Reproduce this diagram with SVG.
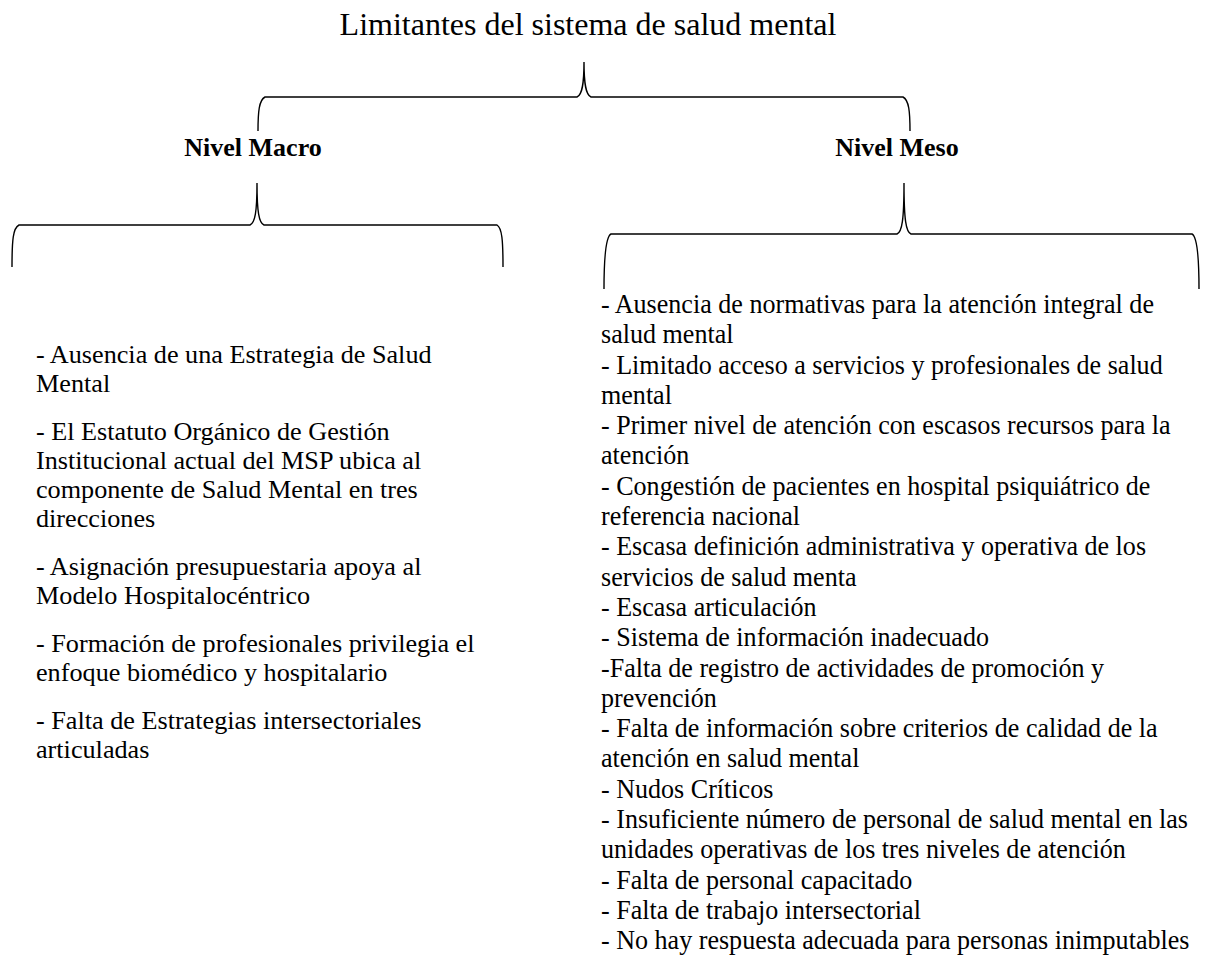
<svg xmlns="http://www.w3.org/2000/svg" width="1206" height="963" viewBox="0 0 1206 963">
<style>
.t{font-family:"Liberation Serif","Times New Roman",serif;fill:#000}
.title{font-size:32px}
.head{font-size:26px;font-weight:bold}
.lt{font-size:26.2px}
.rt{font-size:27.3px}
.br{fill:none;stroke:#000;stroke-width:1.4}
</style>
<rect width="1206" height="963" fill="#fff"/>
<g id="title"><text class="t title" x="588" y="35" text-anchor="middle">Limitantes del sistema de salud mental</text></g>
<g id="connectors">
<path class="br" d="M258,131 C258,112 259,100 265,97 L577,97 C582,95 584,85 584,62 C584,85 586,95 591,97 L903,97 C909,100 910,112 910,131"/>
<path class="br" d="M12,267 C12,240 13,228 19,225 L250,225 C255,223 257,212 257,183 C257,212 259,223 264,225 L497,225 C502,228 503,240 503,267"/>
<path class="br" d="M604,289 C604,262 605,237 611,234 L897,234 C902,232 904,220 904,183 C904,220 906,232 911,234 L1192,234 C1198,237 1199,262 1199,289"/>
</g>
<g id="macro"><text class="t head" x="253" y="156" text-anchor="middle">Nivel Macro</text></g>
<g id="meso"><text class="t head" x="897" y="156" text-anchor="middle">Nivel Meso</text></g>
<g id="macro-list">
<text class="t lt">
<tspan x="36" y="363">- Ausencia de una Estrategia de Salud</tspan>
<tspan x="36" y="392">Mental</tspan>
<tspan x="36" y="440">- El Estatuto Orgánico de Gestión</tspan>
<tspan x="36" y="469">Institucional actual del MSP ubica al</tspan>
<tspan x="36" y="498">componente de Salud Mental en tres</tspan>
<tspan x="36" y="527">direcciones</tspan>
<tspan x="36" y="575">- Asignación presupuestaria apoya al</tspan>
<tspan x="36" y="604">Modelo Hospitalocéntrico</tspan>
<tspan x="36" y="652">- Formación de profesionales privilegia el</tspan>
<tspan x="36" y="681">enfoque biomédico y hospitalario</tspan>
<tspan x="36" y="729">- Falta de Estrategias intersectoriales</tspan>
<tspan x="36" y="758">articuladas</tspan>
</text>
</g>
<g id="meso-list" transform="translate(601,0) scale(0.955,1)">
<text class="t rt">
<tspan x="0" y="313">- Ausencia de normativas para la atención integral de</tspan>
<tspan x="0" y="343.3">salud mental</tspan>
<tspan x="0" y="373.6">- Limitado acceso a servicios y profesionales de salud</tspan>
<tspan x="0" y="403.9">mental</tspan>
<tspan x="0" y="434.2">- Primer nivel de atención con escasos recursos para la</tspan>
<tspan x="0" y="464.5">atención</tspan>
<tspan x="0" y="494.8">- Congestión de pacientes en hospital psiquiátrico de</tspan>
<tspan x="0" y="525.1">referencia nacional</tspan>
<tspan x="0" y="555.4">- Escasa definición administrativa y operativa de los</tspan>
<tspan x="0" y="585.7">servicios de salud menta</tspan>
<tspan x="0" y="616">- Escasa articulación</tspan>
<tspan x="0" y="646.3">- Sistema de información inadecuado</tspan>
<tspan x="0" y="676.6">-Falta de registro de actividades de promoción y</tspan>
<tspan x="0" y="706.9">prevención</tspan>
<tspan x="0" y="737.2">- Falta de información sobre criterios de calidad de la</tspan>
<tspan x="0" y="767.5">atención en salud mental</tspan>
<tspan x="0" y="797.8">- Nudos Críticos</tspan>
<tspan x="0" y="828.1">- Insuficiente número de personal de salud mental en las</tspan>
<tspan x="0" y="858.4">unidades operativas de los tres niveles de atención</tspan>
<tspan x="0" y="888.7">- Falta de personal capacitado</tspan>
<tspan x="0" y="919">- Falta de trabajo intersectorial</tspan>
<tspan x="0" y="949.3">- No hay respuesta adecuada para personas inimputables</tspan>
</text>
</g>
</svg>
